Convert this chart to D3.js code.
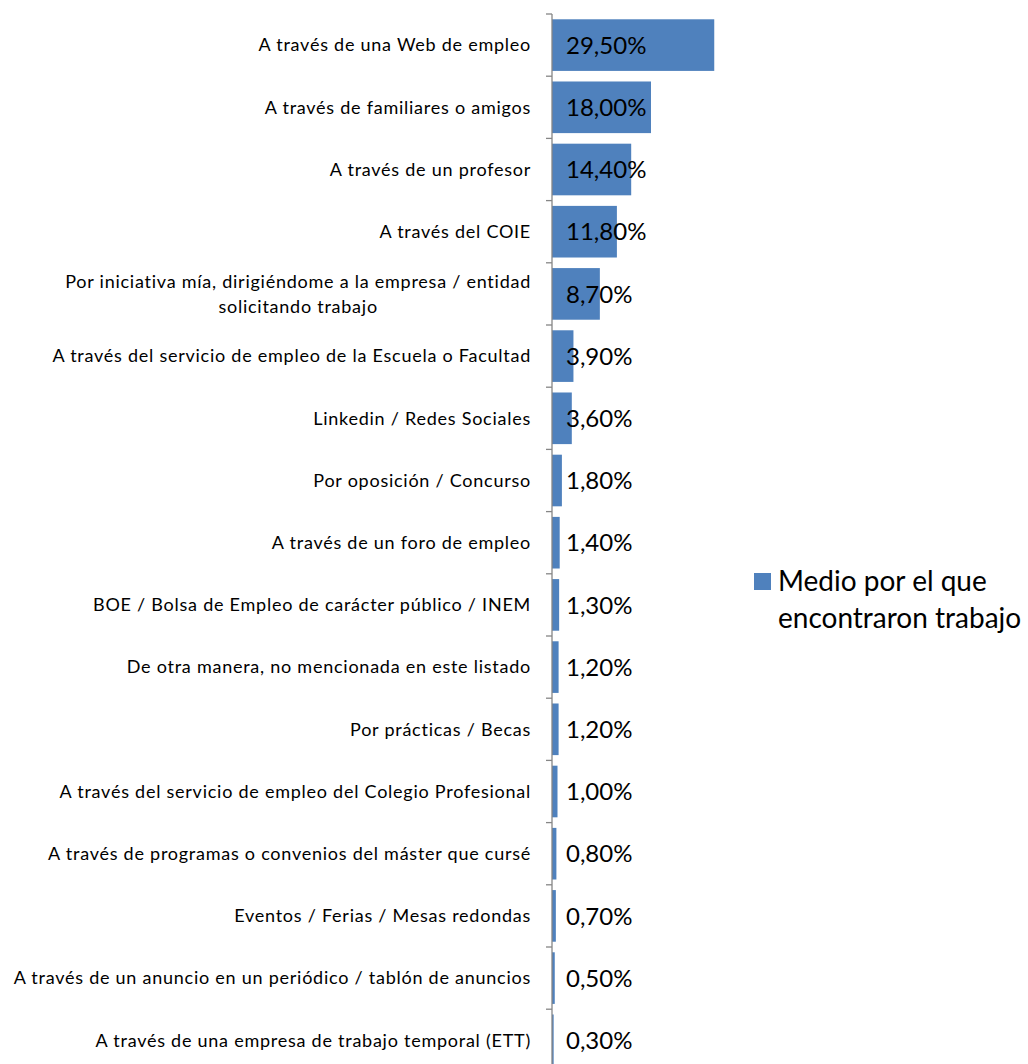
<!DOCTYPE html>
<html>
<head>
<meta charset="utf-8">
<script src="https://cdn.jsdelivr.net/npm/d3@7"></script>
<style>
  html, body { margin: 0; padding: 0; background: #fff; }
  svg { display: block; }
</style>
</head>
<body>
<svg id="chart" width="1028" height="1064"></svg>
<script>
const categories = [
  "A través de una Web de empleo",
  "A través de familiares o amigos",
  "A través de un profesor",
  "A través del COIE",
  "Por iniciativa mía, dirigiéndome a la empresa / entidad solicitando trabajo",
  "A través del servicio de empleo de la Escuela o Facultad",
  "Linkedin / Redes Sociales",
  "Por oposición / Concurso",
  "A través de un foro de empleo",
  "BOE / Bolsa de Empleo de carácter público / INEM",
  "De otra manera, no mencionada en este listado",
  "Por prácticas / Becas",
  "A través del servicio de empleo del Colegio Profesional",
  "A través de programas o convenios del máster que cursé",
  "Eventos / Ferias / Mesas redondas",
  "A través de un anuncio en un periódico / tablón de anuncios",
  "A través de una empresa de trabajo temporal (ETT)"
];
const values = [29.5, 18.0, 14.4, 11.8, 8.7, 3.9, 3.6, 1.8, 1.4, 1.3, 1.2, 1.2, 1.0, 0.8, 0.7, 0.5, 0.3];
const seriesName = ["Medio por el que", "encontraron trabajo"];

(function () {
const svg = d3.select("#chart");
const axisX = 552, plotTop = 14, step = 62.2;
const font = "Lato, 'Open Sans', sans-serif";

const x = d3.scaleLinear().domain([0, 30]).range([axisX, axisX + 165]);
const y = d3.scaleBand().domain(categories)
  .range([plotTop, plotTop + step * categories.length])
  .paddingInner(0.17).paddingOuter(0.085);

const data = categories.map((c, i) => ({ c, v: values[i] }));

// bars
svg.append("g").selectAll("rect").data(data).join("rect")
  .attr("x", x(0))
  .attr("y", d => y(d.c))
  .attr("width", d => x(d.v) - x(0))
  .attr("height", y.bandwidth())
  .attr("fill", "#4F81BD");

// axis line + ticks
const ax = svg.append("g").attr("stroke", "#868686").attr("stroke-width", 1.3);
ax.append("line").attr("x1", axisX).attr("x2", axisX).attr("y1", plotTop).attr("y2", 1064);
d3.range(categories.length + 1).forEach(i => {
  const yy = y.range()[0] + i * y.step();
  ax.append("line").attr("x1", axisX - 6).attr("x2", axisX).attr("y1", yy).attr("y2", yy);
});

// value labels
svg.append("g").selectAll("text").data(data).join("text")
  .attr("x", axisX + 14)
  .attr("y", d => y(d.c) + y.bandwidth() / 2)
  .attr("dy", "0.36em")
  .attr("font-family", font)
  .attr("font-size", 24)
  .attr("fill", "#000")
  .text(d => d3.format(".2f")(d.v).replace(".", ",") + "%");

// category labels (wrap when too long)
const labelRight = 531, maxW = 535, lineH = 25;
const lg = svg.append("g").attr("font-family", font).attr("font-size", 18)
  .attr("letter-spacing", 0.75).attr("fill", "#000");
data.forEach(d => {
  const t = lg.append("text").attr("text-anchor", "middle");
  const words = d.c.split(" ");
  let lines = [], cur = [];
  const probe = lg.append("text");
  words.forEach(w => {
    const test = cur.concat([w]).join(" ");
    probe.text(test);
    if (probe.node().getComputedTextLength() > maxW && cur.length) {
      lines.push(cur.join(" ")); cur = [w];
    } else cur.push(w);
  });
  lines.push(cur.join(" "));
  let wMax = 0;
  lines.forEach(l => { probe.text(l); wMax = Math.max(wMax, probe.node().getComputedTextLength()); });
  probe.remove();
  const cy = y(d.c) + y.bandwidth() / 2;
  const cx = labelRight - wMax / 2;
  lines.forEach((l, i) => {
    t.append("tspan").attr("x", cx)
      .attr("y", cy + (i - (lines.length - 1) / 2) * lineH)
      .attr("dy", "0.35em").text(l);
  });
});

// legend
const leg = svg.append("g");
leg.append("rect").attr("x", 754).attr("y", 573).attr("width", 17).attr("height", 17).attr("fill", "#4F81BD");
leg.append("text").attr("font-family", font).attr("font-size", 28).attr("fill", "#000")
  .selectAll("tspan").data(seriesName).join("tspan")
  .attr("x", 778).attr("y", (d, i) => 591 + i * 37).text(d => d);
})();
</script>
</body>
</html>
